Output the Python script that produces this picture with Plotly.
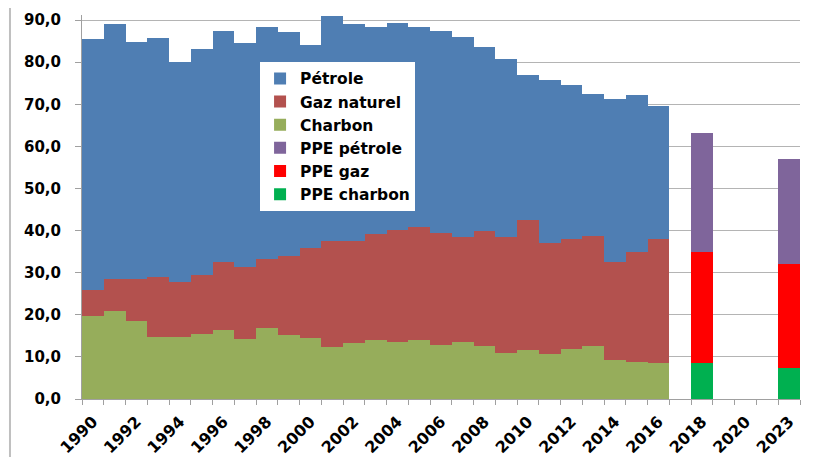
import plotly.graph_objects as go

# Categories (x axis)
categories = [str(y) for y in range(1990, 2021)] + ["2022", "2023"]
hist_years = [str(y) for y in range(1990, 2017)]
ppe_years = ["2018", "2023"]

# Historical series (Mtep)
charbon = [19.8, 20.9, 18.6, 14.7, 14.7, 15.5, 16.3, 14.3, 16.9, 15.2,
           14.6, 12.4, 13.2, 14.0, 13.5, 14.0, 12.9, 13.5, 12.6, 10.9,
           11.7, 10.6, 11.8, 12.6, 9.3, 8.9, 8.6]
gaz = [6.2, 7.5, 9.8, 14.2, 13.1, 14.0, 16.3, 17.0, 16.4, 18.8,
       21.3, 25.1, 24.3, 25.3, 26.6, 26.9, 26.6, 24.9, 27.2, 27.5,
       30.7, 26.4, 26.2, 26.1, 23.3, 26.1, 29.4]
petrole = [59.6, 60.6, 56.5, 56.9, 52.2, 53.7, 54.9, 53.2, 55.1, 53.2,
           48.2, 53.4, 51.5, 49.0, 49.1, 47.4, 47.9, 47.6, 43.9, 42.4,
           34.6, 38.8, 36.5, 33.8, 38.7, 37.1, 31.5]

# PPE targets
ppe_charbon = [8.6, 7.4]
ppe_gaz = [26.4, 24.7]
ppe_petrole = [28.1, 24.9]

# Tick labels: every second category
tick_text = [c if i % 2 == 0 else "" for i, c in enumerate(categories)]

colors = {
    "Pétrole": "#4F7EB3",
    "Gaz naturel": "#B3514E",
    "Charbon": "#96AD5B",
    "PPE pétrole": "#7F659B",
    "PPE gaz": "#FF0000",
    "PPE charbon": "#00B050",
}

fig = go.Figure()
# Order chosen so that reversed legend gives the reference order
fig.add_trace(go.Bar(x=ppe_years, y=ppe_charbon, name="PPE charbon",
                     marker=dict(color=colors["PPE charbon"], line=dict(width=0))))
fig.add_trace(go.Bar(x=ppe_years, y=ppe_gaz, name="PPE gaz",
                     marker=dict(color=colors["PPE gaz"], line=dict(width=0))))
fig.add_trace(go.Bar(x=ppe_years, y=ppe_petrole, name="PPE pétrole",
                     marker=dict(color=colors["PPE pétrole"], line=dict(width=0))))
fig.add_trace(go.Bar(x=hist_years, y=charbon, name="Charbon",
                     marker=dict(color=colors["Charbon"], line=dict(width=0))))
fig.add_trace(go.Bar(x=hist_years, y=gaz, name="Gaz naturel",
                     marker=dict(color=colors["Gaz naturel"], line=dict(width=0))))
fig.add_trace(go.Bar(x=hist_years, y=petrole, name="Pétrole",
                     marker=dict(color=colors["Pétrole"], line=dict(width=0))))

fig.update_layout(
    width=833, height=457,
    margin=dict(l=74, r=41, t=7, b=66, autoexpand=False),
    barmode="stack", bargap=0,
    paper_bgcolor="white", plot_bgcolor="white",
    separators=", ",
    font=dict(family="DejaVu Sans", color="black"),
    legend=dict(
        traceorder="reversed",
        x=0.248, y=0.878, xanchor="left", yanchor="top",
        bgcolor="white", borderwidth=0,
        font=dict(family="DejaVu Sans", size=15.5, weight="bold", color="black"),
        itemwidth=30,
    ),
    shapes=[dict(type="line", xref="paper", yref="paper",
                 x0=-0.1003, x1=-0.1003, y0=-0.2, y1=1.05,
                 line=dict(color="#BFBFBF", width=2))],
)

fig.update_xaxes(
    type="category", categoryorder="array", categoryarray=categories,
    tickmode="array", tickvals=categories, ticktext=tick_text,
    tickson="boundaries", ticks="outside", ticklen=5, tickcolor="#A0A0A0",
    tickangle=-45, showline=True, linecolor="#A0A0A0", linewidth=1,
    showgrid=False, automargin=False, ticklabelstandoff=6,
    tickfont=dict(family="DejaVu Sans", size=16, weight="bold", color="black"),
)
fig.update_yaxes(
    range=[0, 91.2], tickvals=[0, 10, 20, 30, 40, 50, 60, 70, 80, 90],
    tickformat=".1f", ticks="outside", ticklen=6, tickcolor="#A0A0A0",
    showline=True, linecolor="#A0A0A0", linewidth=1,
    showgrid=True, gridcolor="#B4B4B4", gridwidth=1,
    zeroline=False, automargin=False, ticklabelstandoff=11,
    tickfont=dict(family="DejaVu Sans", size=15, weight="bold", color="black"),
)

fig.write_html("out.html")
